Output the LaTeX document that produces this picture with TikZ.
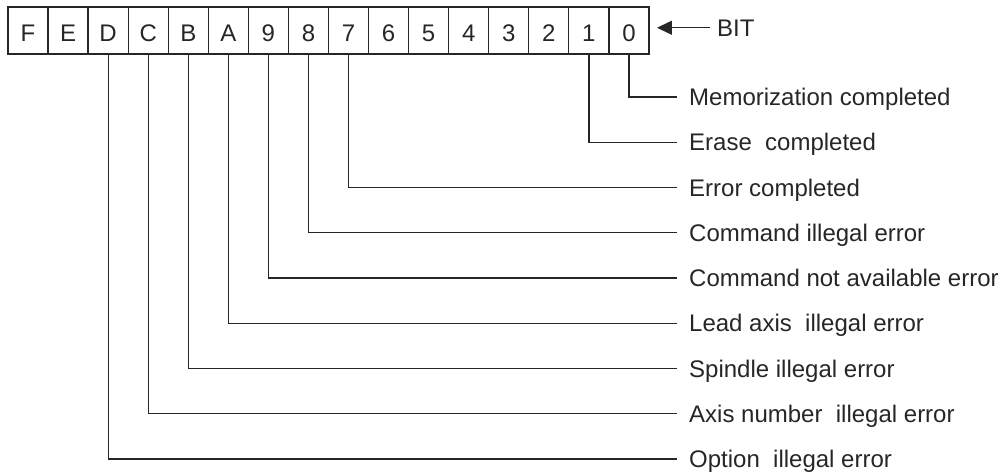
\documentclass[tikz,border=0pt]{standalone}
\usepackage{fontspec}
\setmainfont{Liberation Sans}
\usetikzlibrary{arrows.meta}
\begin{document}
\begin{tikzpicture}[x=1pt,y=-1pt,
  ink/.style={line width=1.3pt,draw=black!85},
  bitbox/.style={ink,minimum width=40.06pt,minimum height=47pt,inner sep=0pt,outer sep=0pt,
    text height=22pt,text depth=0pt,
    font=\fontsize{24}{28}\selectfont,text=black!85},
  lbl/.style={anchor=base west,inner sep=0pt,font=\fontsize{24}{28}\selectfont,text=black!85}]
\useasboundingbox (0,0) rectangle (1002,475);
% boxes
\foreach \t [count=\i from 0] in {F,E,D,C,B,A,9,8,7,6,5,4,3,2,1,0}{
  \node[bitbox] (b\t) at ({8+40.06*(\i+0.5)},30.5) {\t};
}
% BIT arrow
\node[lbl] (bit) at (717,36) {BIT};
\draw[ink,-{Triangle[length=15pt,width=14pt]},shorten <=7pt,shorten >=8pt]
  (bit.west) -- (bit.west -| b0.east);
% labels
\foreach \t/\r/\s in {0/0/Memorization completed,
                      1/1/Erase\ \ completed,
                      7/2/Error completed,
                      8/3/Command illegal error,
                      9/4/Command not available error,
                      A/5/Lead axis\ \ illegal error,
                      B/6/Spindle illegal error,
                      C/7/Axis number\ \ illegal error,
                      D/8/Option\ \ illegal error}{
  \coordinate (e\t) at (677,{97+45.25*\r});
  \node[lbl] (l\t) at (689,{97+45.25*\r+8.5}) {\s};
  \draw[ink] (b\t.south) |- (e\t);
}
\end{tikzpicture}
\end{document}
